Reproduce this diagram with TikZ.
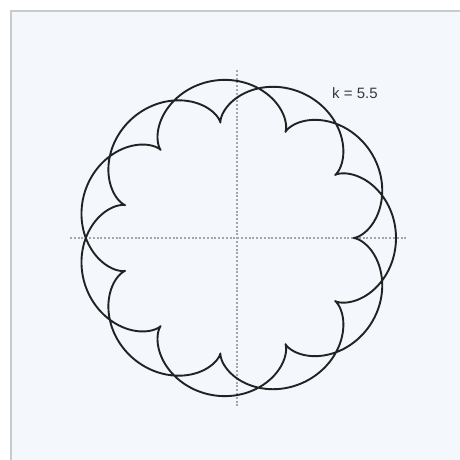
\documentclass[tikz,border=0pt]{standalone}
\usepackage{fontspec}
\setsansfont{Liberation Sans}
\usetikzlibrary{positioning}

\definecolor{panelbg}{HTML}{F4F8FC}
\definecolor{panelrule}{HTML}{C8CACD}
\definecolor{curveink}{HTML}{222222}
\definecolor{axisink}{HTML}{A4A6AA}

\begin{document}
\begin{tikzpicture}[
  x=1pt, y=-1pt,
  panel/.style={fill=panelbg, draw=none},
  rule/.style={draw=panelrule, line width=2.2},
  axis/.style={draw=axisink, line width=1.8, dash pattern=on 2 off 1.8},
  curve/.style={draw=curveink, line width=1.9, line join=round},
  tag/.style={font=\sffamily\fontsize{15}{17}\selectfont, text=curveink!90, inner sep=0pt}
]
\useasboundingbox (0,0) rectangle (459,460);
\fill[white] (0,0) rectangle (459,460);

% panel, only top and left edges show
\fill[panel] (11,11) rectangle (470,470);
\draw[rule] (11,470) -- (11,11) -- (470,11);

\coordinate (o) at (237,238);
\coordinate (xl) at (70,238);
\coordinate (xr) at (406,238);
\coordinate (yt) at (237,70);
\coordinate (yb) at (237,406);

% axes
\draw[axis] (xl) -- (xr);
\draw[axis] (yt) -- (yb);

% epicycloid, k = 5.5, two turns
\draw[curve, shift={(o)}] plot[domain=0:720, samples=720, smooth, variable=\t]
  ({21.2*(6.5*cos(\t) - cos(6.5*\t))}, {21.2*(6.5*sin(\t) - sin(6.5*\t))}) -- cycle;

\node[tag, anchor=west] (klabel) at (332,93) {k = 5.5};

\end{tikzpicture}
\end{document}
